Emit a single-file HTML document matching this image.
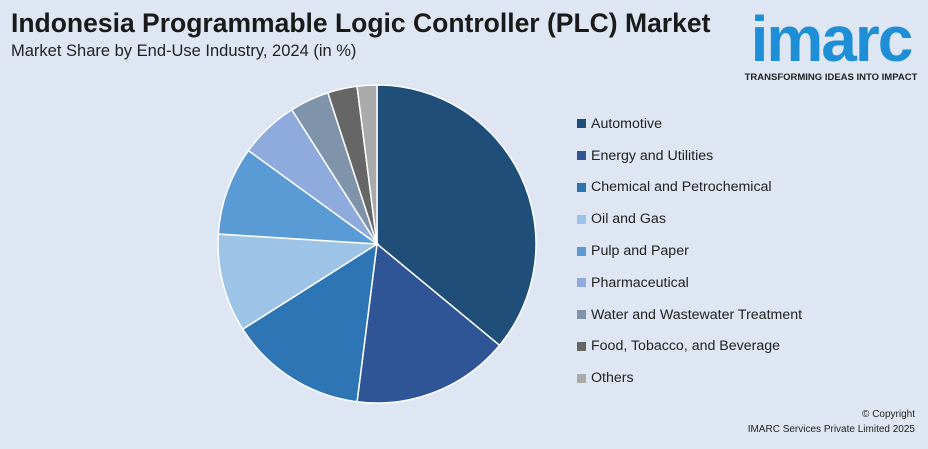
<!DOCTYPE html>
<html><head><meta charset="utf-8"><style>
body{margin:0;width:928px;height:449px;background:#dde6f2;font-family:"Liberation Sans",sans-serif;position:relative;overflow:hidden}
.t{position:absolute;left:11px;top:8px;font-size:26.5px;font-weight:bold;color:#1a1a1a;white-space:nowrap}
.s{position:absolute;left:11px;top:42px;font-size:16.5px;color:#222;white-space:nowrap}
.lg{position:absolute;left:577px;top:108px}
.li{height:31.8px;font-size:14.2px;color:#222;display:flex;align-items:center}
.sw{width:9px;height:9px;margin-right:5px}
.logo{position:absolute;left:738px;top:6px;width:186px;text-align:center}
.cp{position:absolute;right:13px;top:407px;font-size:10px;color:#222;text-align:right;line-height:15px}
</style></head><body>
<div class="t">Indonesia Programmable Logic Controller (PLC) Market</div>
<div class="s">Market Share by End-Use Industry, 2024 (in %)</div>
<div class="logo">
<div style="font-size:64px;font-weight:bold;color:#1e8fd6;letter-spacing:-2px;line-height:66px">imarc</div>
<div style="font-size:9.5px;font-weight:bold;color:#222;margin-top:0px">TRANSFORMING IDEAS INTO IMPACT</div></div>
<svg id="pie" width="928" height="449" style="position:absolute;left:0;top:0"></svg>
<div class="lg" id="lg"></div>
<div class="cp">© Copyright<br>IMARC Services Private Limited 2025</div>
<script>
const categories=["Automotive","Energy and Utilities","Chemical and Petrochemical","Oil and Gas","Pulp and Paper","Pharmaceutical","Water and Wastewater Treatment","Food, Tobacco, and Beverage","Others"];
const values=[36,16,14,10,9,6,4,3,2];
const colors=["#1f4e79","#2f5597","#2e75b6","#9dc3e6","#5b9bd5","#8faadc","#7f93ab","#666666","#aaaaaa"];
const svg=document.getElementById('pie'),NS="http://www.w3.org/2000/svg";
const cx=377,cy=244,r=159,tot=values.reduce((a,b)=>a+b,0);
let a=0;
values.forEach((v,i)=>{
 const a2=a+v/tot*2*Math.PI;
 const p=document.createElementNS(NS,'path');
 const x1=cx+r*Math.sin(a),y1=cy-r*Math.cos(a),x2=cx+r*Math.sin(a2),y2=cy-r*Math.cos(a2);
 p.setAttribute('d',`M${cx},${cy}L${x1},${y1}A${r},${r} 0 ${a2-a>Math.PI?1:0} 1 ${x2},${y2}Z`);
 p.setAttribute('fill',colors[i]);p.setAttribute('stroke','#fff');p.setAttribute('stroke-width','1.5');
 
 
 svg.appendChild(p);a=a2;
 const d=document.createElement('div');d.className='li';
 
 
 d.innerHTML=`<span class="sw" style="background:${colors[i]}"></span>${categories[i]}`;
 document.getElementById('lg').appendChild(d);
});
</script>
</body></html>
